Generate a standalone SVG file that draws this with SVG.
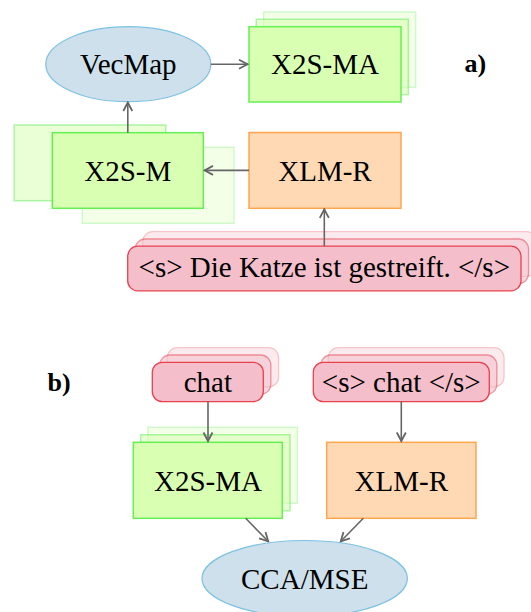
<svg xmlns="http://www.w3.org/2000/svg" width="531" height="612" viewBox="0 0 531 612">
  <defs>
    <marker id="arr" viewBox="0 0 12 12" refX="11" refY="6" markerWidth="12" markerHeight="12" markerUnits="userSpaceOnUse" orient="auto">
      <path d="M2,1.5 L10.5,6 L2,10.5" fill="none" stroke="#666" stroke-width="1.8" stroke-linejoin="miter"/>
    </marker>
  </defs>
  <style>
    text { font-family: 'Liberation Serif', 'DejaVu Serif', serif; font-size: 29px; fill: #000; text-anchor: middle; }
    .lbl { font-weight: bold; font-size: 26px; text-anchor: start; }
    .ell { fill: #cde0eb; stroke: #7cc2e2; stroke-width: 1.2; }
    .grn { fill: #d9ffb3; stroke: #66ee55; stroke-width: 1.5; }
    .org { fill: #ffd9b3; stroke: #ffa54d; stroke-width: 1.5; }
    .pnk { fill: #f4bfca; stroke: #e8404e; stroke-width: 1.3; }
    .l1 { opacity: 0.55; }
    .l2 { opacity: 0.3; }
    .edge { stroke: #666; stroke-width: 1.6; fill: none; marker-end: url(#arr); }
  </style>

  <!-- part a -->
  <g id="vecmap">
    <ellipse class="ell" cx="128.3" cy="64.2" rx="82.5" ry="37.5"/>
    <text x="128.3" y="74" font-family="Liberation Serif, serif">VecMap</text>
  </g>

  <g id="x2s-ma-a">
    <rect class="grn l2" x="263.6" y="12" width="152" height="75.3"/>
    <rect class="grn l1" x="256.3" y="19.3" width="152" height="75.3"/>
    <rect class="grn" x="249" y="26.7" width="152" height="75.3"/>
    <text x="325" y="74" font-family="Liberation Serif, serif">X2S-MA</text>
  </g>

  <g id="label-a">
    <text class="lbl" x="464.5" y="72" font-family="Liberation Serif, serif">a)</text>
  </g>

  <g id="x2s-m">
    <rect class="grn l1" x="14.3" y="125" width="151.4" height="75.7"/>
    <rect class="grn l2" x="82.3" y="147.3" width="151.7" height="76"/>
    <rect class="grn" x="52.3" y="132.7" width="151" height="75.6"/>
    <text x="127.8" y="180.5" font-family="Liberation Serif, serif">X2S-M</text>
  </g>

  <g id="xlmr-a">
    <rect class="org" x="249" y="132.5" width="152" height="75.8"/>
    <text x="325" y="180.5" font-family="Liberation Serif, serif">XLM-R</text>
  </g>

  <g id="sentence">
    <rect class="pnk l2" x="142.7" y="231.7" width="394" height="44.6" rx="10"/>
    <rect class="pnk l1" x="135.2" y="239" width="393.3" height="44.6" rx="10"/>
    <rect class="pnk" x="127.7" y="246.2" width="393.3" height="44.6" rx="10"/>
    <text x="324.3" y="276.5" font-family="Liberation Serif, serif">&lt;s&gt; Die Katze ist gestreift. &lt;/s&gt;</text>
  </g>

  <!-- part b -->
  <g id="label-b">
    <text class="lbl" x="47.5" y="391" font-family="Liberation Serif, serif">b)</text>
  </g>

  <g id="chat">
    <rect class="pnk l2" x="167.3" y="347.7" width="111.3" height="39.3" rx="10"/>
    <rect class="pnk l1" x="159.8" y="355" width="111" height="39.3" rx="10"/>
    <rect class="pnk" x="152.3" y="362.3" width="111" height="39.3" rx="10"/>
    <text x="207.8" y="391.5" font-family="Liberation Serif, serif">chat</text>
  </g>

  <g id="chat-s">
    <rect class="pnk l2" x="328.3" y="347.7" width="175.7" height="39.3" rx="10"/>
    <rect class="pnk l1" x="320.8" y="355" width="176" height="39.3" rx="10"/>
    <rect class="pnk" x="313.3" y="362.3" width="176" height="39.3" rx="10"/>
    <text x="401.3" y="391.5" font-family="Liberation Serif, serif">&lt;s&gt; chat &lt;/s&gt;</text>
  </g>

  <g id="x2s-ma-b">
    <rect class="grn l2" x="148" y="427.3" width="149.3" height="76"/>
    <rect class="grn l1" x="140.7" y="434.8" width="149.3" height="76"/>
    <rect class="grn" x="133.3" y="442.3" width="149" height="76"/>
    <text x="208" y="490.5" font-family="Liberation Serif, serif">X2S-MA</text>
  </g>

  <g id="xlmr-b">
    <rect class="org" x="326.7" y="442.3" width="149.3" height="76"/>
    <text x="401.3" y="490.5" font-family="Liberation Serif, serif">XLM-R</text>
  </g>

  <g id="cca-mse">
    <ellipse class="ell" cx="304.7" cy="578.5" rx="102.7" ry="38"/>
    <text x="304.7" y="588.5" font-family="Liberation Serif, serif">CCA/MSE</text>
  </g>

  <g id="connectors">
    <line class="edge" x1="210.8" y1="64.2" x2="248" y2="64.2"/>
    <line class="edge" x1="127.8" y1="132.7" x2="127.8" y2="102"/>
    <line class="edge" x1="249" y1="170.4" x2="204" y2="170.4"/>
    <line class="edge" x1="324.3" y1="246.2" x2="324.3" y2="208.8"/>
    <line class="edge" x1="208" y1="401.6" x2="208" y2="441.5"/>
    <line class="edge" x1="401.3" y1="401.6" x2="401.3" y2="441.5"/>
    <line class="edge" x1="245.7" y1="518.3" x2="268.6" y2="541.7"/>
    <line class="edge" x1="363.3" y1="518.3" x2="340.4" y2="541.7"/>
  </g>
</svg>
